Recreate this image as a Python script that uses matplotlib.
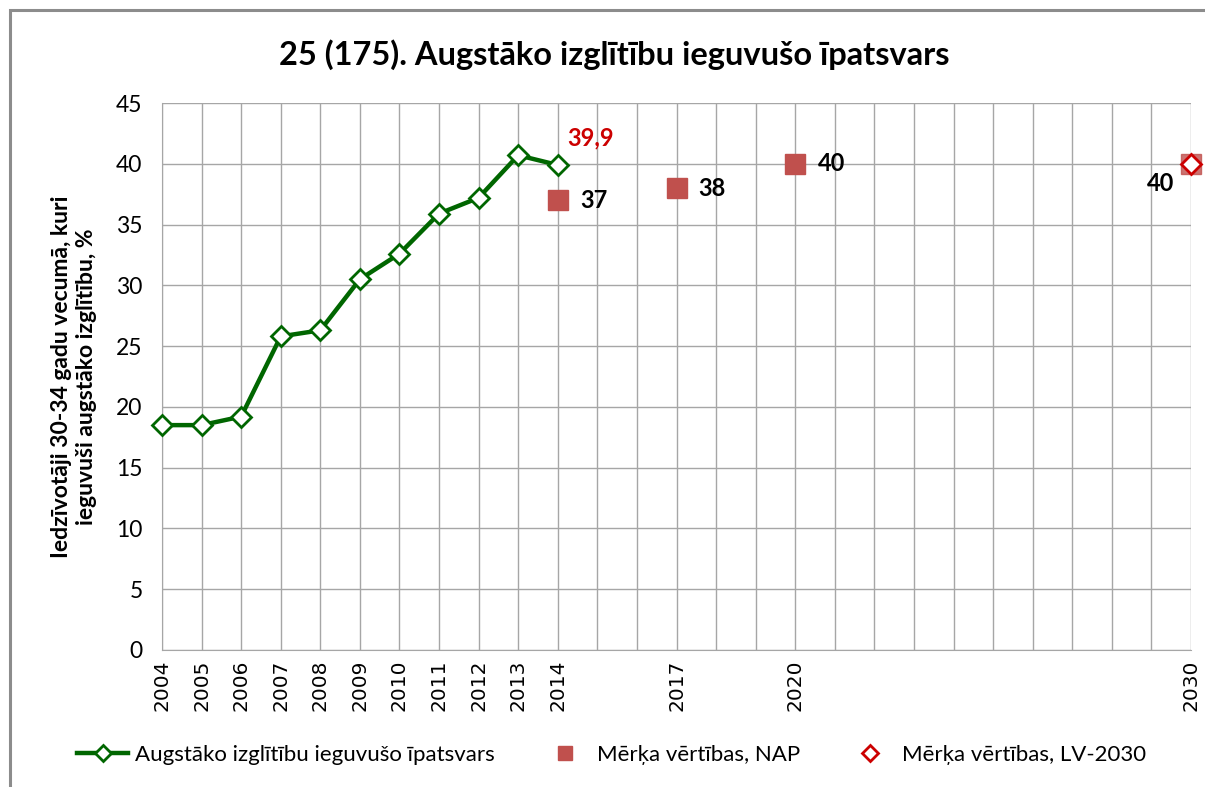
"""Augstako izglitibu ieguvuso ipatsvars, 2004-2030"""

import matplotlib
matplotlib.use('Agg')
import matplotlib.pyplot as plt
from matplotlib.patches import Rectangle

plt.rcParams['font.family'] = ['Lato', 'DejaVu Sans']

# data
years = [2004, 2005, 2006, 2007, 2008, 2009, 2010, 2011, 2012, 2013, 2014]
share = [18.5, 18.5, 19.2, 25.8, 26.3, 30.5, 32.6, 35.9, 37.2, 40.7, 39.9]
nap_years = [2014, 2017, 2020]
nap_values = [37, 38, 40]
lv_years = [2030]
lv_values = [40]
tick_years = [2004, 2005, 2006, 2007, 2008, 2009, 2010, 2011, 2012, 2013,
              2014, 2017, 2020, 2030]

GREEN = '#006600'
NAP_RED = '#c0504d'
LV_RED = '#cc0000'

fig = plt.figure(figsize=(12.05, 7.87), dpi=100)
ax = fig.add_axes([162 / 1205, 1 - 650 / 787, (1191 - 162) / 1205, (650 - 103) / 787])

# outer chart border
fig.patches.append(Rectangle((10 / 1205, -0.05), 1.1, 1 - 10 / 787 + 0.05,
                             transform=fig.transFigure, fill=False,
                             edgecolor='#8c8c8c', linewidth=2.2))

ax.plot(years, share, color=GREEN, linewidth=3.2, marker='D',
        markersize=10.5, markerfacecolor='white', markeredgecolor=GREEN,
        markeredgewidth=2, clip_on=False, zorder=4,
        label='Augstāko izglītību ieguvušo īpatsvars')
ax.plot(nap_years, nap_values, linestyle='none', marker='s', markersize=14,
        color=NAP_RED, clip_on=False, zorder=4, label='Mērķa vērtības, NAP')
# faint square behind the 2030 target
ax.plot(lv_years, lv_values, linestyle='none', marker='s', markersize=14,
        color=NAP_RED, alpha=0.8, clip_on=False, zorder=4)
ax.plot(lv_years, lv_values, linestyle='none', marker='D', markersize=10.5,
        markerfacecolor='white', markeredgecolor=LV_RED, markeredgewidth=2,
        clip_on=False, zorder=5, label='Mērķa vērtības, LV-2030')

# data labels
ax.annotate('39,9', (years[-1], share[-1]), xytext=(7, 11),
            textcoords='offset points', color=LV_RED, fontsize=17,
            fontweight='bold', va='bottom', ha='left')
for x, v in zip(nap_years, nap_values):
    ax.annotate(str(v), (x, v), xytext=(16, 0), textcoords='offset points',
                fontsize=17, fontweight='bold', va='center', ha='left')
ax.annotate(str(lv_values[0]), (lv_years[0], lv_values[0]), xytext=(-12, -14),
            textcoords='offset points', fontsize=17, fontweight='bold',
            va='center', ha='right')

ax.set_xlim(2004, 2030)
ax.set_ylim(0, 45)
ax.set_xticks(range(2004, 2031), minor=False)
ax.set_xticklabels([str(y) if y in tick_years else '' for y in range(2004, 2031)],
                   rotation=90, fontsize=14.5, family='DejaVu Sans')
ax.set_yticks(range(0, 46, 5))
ax.tick_params(axis='y', labelsize=16.5, length=0, pad=14)
ax.tick_params(axis='x', length=0, pad=7)
ax.grid(True, color='#a6a6a6', linewidth=1.0)
ax.set_axisbelow(True)
for side in ['top', 'right']:
    ax.spines[side].set_visible(False)
for side in ['left', 'bottom']:
    ax.spines[side].set_color('#a6a6a6')

ax.set_ylabel('Iedzīvotāji 30-34 gadu vecumā, kuri\nieguvuši augstāko izglītību, %',
              fontsize=16.5, fontweight='bold', labelpad=14, linespacing=1.2)

fig.text(614 / 1205, 1 - 55 / 787,
         '25 (175). Augstāko izglītību ieguvušo īpatsvars',
         ha='center', va='center', fontsize=23.5, fontweight='bold')

fig.legend(loc='center', bbox_to_anchor=(612 / 1205, 1 - 755 / 787), ncol=3,
           frameon=False, fontsize=16, handlelength=2.3, columnspacing=2.0,
           handletextpad=0.3, markerscale=0.75)

fig.savefig('out.png', dpi=100)
